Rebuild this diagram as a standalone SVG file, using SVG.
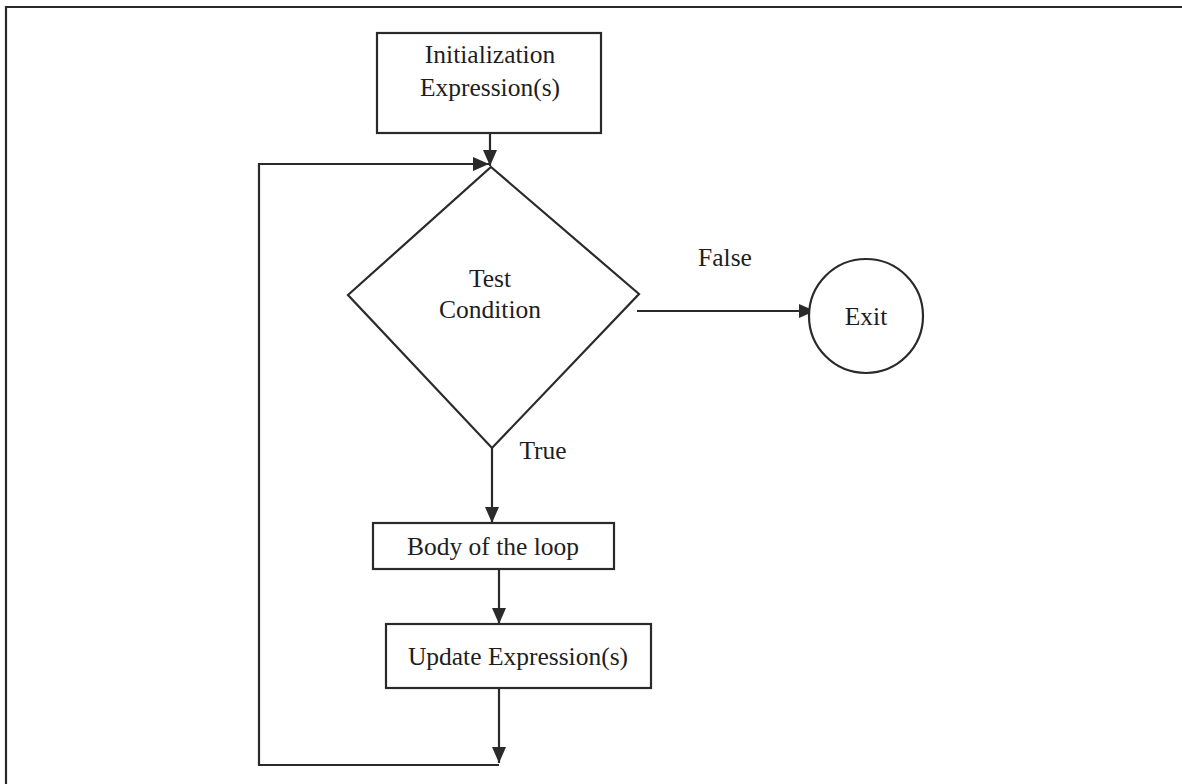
<svg xmlns="http://www.w3.org/2000/svg" width="1182" height="784" viewBox="0 0 1182 784">
  <style>
    .ln { fill: none; stroke: #2a2a2a; stroke-width: 2.2; }
    .shape { fill: #ffffff; stroke: #2a2a2a; stroke-width: 2.2; }
    .lbl { font-family: "Liberation Serif", "DejaVu Serif", serif; font-size: 25.5px; fill: #1e1e1e; text-anchor: middle; }
  </style>
  <defs>
    <marker id="arrow" viewBox="0 0 16 14" refX="16" refY="7" markerWidth="16" markerHeight="14" markerUnits="userSpaceOnUse" orient="auto">
      <path d="M0,0 L16,7 L0,14 Z" fill="#2a2a2a"/>
    </marker>
  </defs>

  <rect x="0" y="0" width="1182" height="784" fill="#ffffff"/>

  <!-- page frame -->
  <g id="frame">
    <path class="ln" d="M6,784 V7 H1182" stroke-width="2.6"/>
  </g>

  <!-- connectors -->
  <g id="connectors">
    <path class="ln" d="M490,133 V166" marker-end="url(#arrow)"/>
    <path class="ln" d="M499,688 V763" marker-end="url(#arrow)"/>
    <path class="ln" d="M499,765 H259 V164 H489" marker-end="url(#arrow)"/>
    <path class="ln" d="M637,311 H815" marker-end="url(#arrow)"/>
    <path class="ln" d="M492,448 V523" marker-end="url(#arrow)"/>
    <path class="ln" d="M499,569 V624" marker-end="url(#arrow)"/>
    <text class="lbl" x="725" y="266">False</text>
    <text class="lbl" x="543" y="459">True</text>
  </g>

  <g id="init">
    <rect class="shape" x="377" y="33" width="224" height="100"/>
    <text class="lbl" x="490" y="63">Initialization</text>
    <text class="lbl" x="490" y="96">Expression(s)</text>
  </g>

  <g id="test">
    <path class="shape" d="M491,167 L639,294 L492,448 L348,295 Z"/>
    <text class="lbl" x="490" y="287">Test</text>
    <text class="lbl" x="490" y="318">Condition</text>
  </g>

  <g id="exit">
    <circle class="shape" cx="866" cy="316" r="57"/>
    <text class="lbl" x="866" y="325">Exit</text>
  </g>

  <g id="body">
    <rect class="shape" x="373" y="523" width="241" height="46"/>
    <text class="lbl" x="493" y="555">Body of the loop</text>
  </g>

  <g id="update">
    <rect class="shape" x="386" y="624" width="265" height="64"/>
    <text class="lbl" x="518" y="665">Update Expression(s)</text>
  </g>
</svg>
